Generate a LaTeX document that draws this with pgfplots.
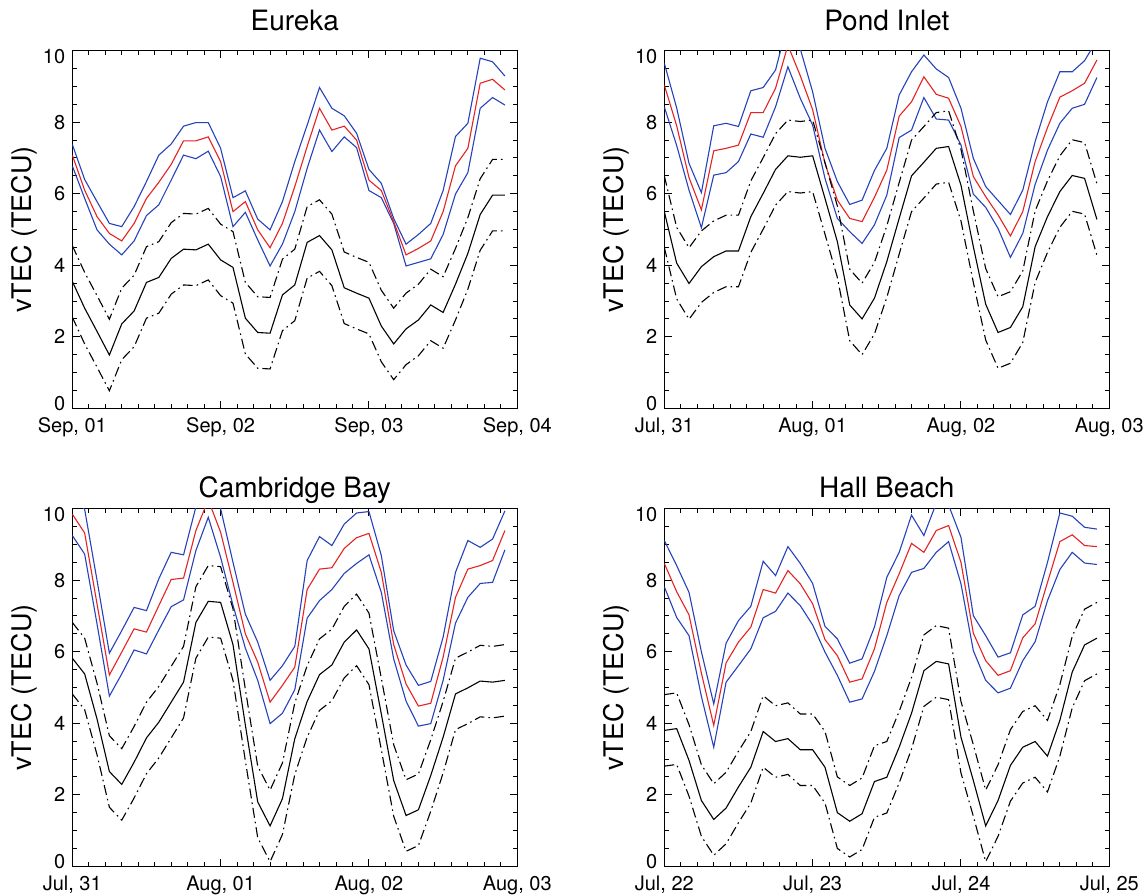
\documentclass[border=0pt]{standalone}
\usepackage{fontspec}
\setmainfont{TeX Gyre Heros}
\usepackage{pgfplots}
\usepackage{pgfplotstable}
\pgfplotsset{compat=1.18}
\definecolor{tecred}{RGB}{228,35,35}
\definecolor{tecblue}{RGB}{38,66,186}

% columns: hour, mean (red), mean +/- sigma (blue), quiet-time (black), black +/- 1
\pgfplotstableread{
h red bu bl k ku kl
0 7.08 7.38 6.78 3.55 4.55 2.55
2 6.10 6.40 5.87 2.80 3.80 1.80
4 5.36 5.78 4.99 2.15 3.15 1.15
6 4.89 5.17 4.59 1.49 2.49 0.49
8 4.68 5.08 4.29 2.36 3.36 1.36
10 5.17 5.64 4.68 2.72 3.72 1.72
12 5.87 6.34 5.39 3.52 4.52 2.52
14 6.32 7.08 5.69 3.66 4.66 2.66
16 6.82 7.39 6.38 4.19 5.19 3.19
18 7.48 7.89 7.08 4.45 5.45 3.45
20 7.48 7.99 6.98 4.43 5.43 3.43
22 7.59 7.99 7.19 4.59 5.59 3.59
24 6.90 7.27 6.48 4.15 5.15 3.15
26 5.50 5.89 5.08 3.94 4.94 2.94
28 5.78 6.08 5.48 2.52 3.52 1.52
30 4.99 5.29 4.71 2.12 3.12 1.12
32 4.49 4.99 3.98 2.10 3.10 1.10
34 5.17 5.78 4.59 3.17 4.17 2.17
36 6.20 6.90 5.50 3.45 4.45 2.45
38 7.32 7.92 6.71 4.64 5.64 3.64
40 8.39 8.97 7.78 4.83 5.83 3.83
42 7.78 8.39 7.18 4.43 5.43 3.43
44 7.89 8.18 7.59 3.37 4.37 2.37
46 7.50 7.69 7.29 3.22 4.22 2.22
48 6.38 6.68 6.09 3.08 4.08 2.08
50 6.09 6.29 5.89 2.30 3.30 1.30
52 5.22 5.31 5.17 1.80 2.80 0.80
54 4.29 4.59 3.98 2.22 3.22 1.22
56 4.47 4.86 4.08 2.47 3.47 1.47
58 4.68 5.17 4.18 2.89 3.89 1.89
60 5.50 6.09 4.86 2.68 3.68 1.68
62 6.78 7.60 5.99 3.47 4.47 2.47
64 7.27 7.97 6.59 4.33 5.33 3.33
66 9.09 9.79 8.39 5.42 6.42 4.42
68 9.20 9.69 8.69 5.96 6.96 4.96
70 8.90 9.29 8.48 5.96 6.96 4.96
}\eureka

\pgfplotstableread{
h red bu bl k ku kl
0 9.04 9.65 8.43 5.50 6.50 4.50
2 7.90 8.40 7.35 4.06 5.06 3.06
4 6.45 6.85 6.10 3.49 4.49 2.49
6 5.55 6.03 5.05 3.96 4.96 2.96
8 7.20 7.90 6.52 4.24 5.24 3.24
10 7.27 7.97 6.59 4.40 5.40 3.40
12 7.36 7.88 6.90 4.40 5.40 3.40
14 8.27 8.88 7.67 5.36 6.36 4.36
16 8.27 8.97 7.58 6.01 7.01 5.01
18 8.95 9.46 8.43 6.68 7.68 5.68
20 10.15 10.80 9.55 7.06 8.06 6.06
22 9.30 10.05 8.67 7.02 8.02 6.02
24 8.35 8.85 7.92 7.06 8.06 6.06
26 6.85 7.27 6.43 5.87 6.87 4.87
28 5.82 6.34 5.31 4.66 5.66 3.66
30 5.31 5.70 4.94 2.89 3.89 1.89
32 5.22 5.82 4.61 2.50 3.50 1.50
34 5.90 6.65 5.13 3.08 4.08 2.08
36 6.66 7.27 5.96 4.10 5.10 3.10
38 8.17 8.76 7.57 5.31 6.31 4.31
40 8.57 9.41 7.78 6.50 7.50 5.50
42 9.27 9.88 8.69 6.88 7.88 5.88
44 8.78 9.49 8.09 7.27 8.27 6.27
46 8.67 9.25 8.06 7.32 8.32 6.32
48 7.88 8.39 7.36 6.24 7.24 5.24
50 6.48 6.99 5.99 4.52 5.52 3.52
52 5.92 6.20 5.62 2.91 3.91 1.91
54 5.41 5.81 5.03 2.12 3.12 1.12
56 4.82 5.42 4.22 2.26 3.26 1.26
58 5.50 6.10 4.89 2.84 3.84 1.84
60 6.90 7.46 6.26 4.52 5.52 3.52
62 7.85 8.57 7.22 5.36 6.36 4.36
64 8.70 9.41 7.97 6.06 7.06 5.06
66 8.88 9.41 8.39 6.51 7.51 5.51
68 9.09 9.72 8.50 6.43 7.43 5.43
70 9.74 10.30 9.25 5.28 6.28 4.28
}\pond

\pgfplotstableread{
h red bu bl k ku kl
0 9.85 10.40 9.25 5.82 6.82 4.82
2 9.32 9.98 8.73 5.38 6.38 4.38
4 7.34 8.00 6.78 4.12 5.12 3.12
6 5.35 5.96 4.76 2.65 3.65 1.65
8 5.99 6.59 5.38 2.29 3.29 1.29
10 6.64 7.24 6.05 2.91 3.91 1.91
12 6.55 7.15 5.94 3.59 4.59 2.59
14 7.29 8.04 6.61 4.03 5.03 3.03
16 8.02 8.78 7.26 4.59 5.59 3.59
18 8.06 8.71 7.45 5.15 6.15 4.15
20 9.39 10.05 8.83 6.82 7.82 5.82
22 10.25 10.90 9.76 7.41 8.41 6.41
24 9.34 10.00 8.64 7.38 8.38 6.38
26 7.94 8.50 7.30 6.20 7.20 5.20
28 6.50 7.05 6.10 3.95 4.95 2.95
30 5.71 6.27 5.20 1.80 2.80 0.80
32 4.59 5.20 3.99 1.13 2.13 0.13
34 5.06 5.61 4.28 1.89 2.89 0.89
36 5.57 6.15 4.94 3.57 4.57 2.57
38 7.74 8.55 6.94 4.61 5.61 3.61
40 8.31 9.22 7.43 5.36 6.36 4.36
42 8.35 8.97 7.74 5.63 6.63 4.63
44 8.89 9.57 8.19 6.27 7.27 5.27
46 9.19 9.88 8.47 6.61 7.61 5.61
48 9.31 9.92 8.71 6.08 7.08 5.08
50 8.22 8.69 7.66 4.26 5.26 3.26
52 6.20 6.59 5.80 2.40 3.40 1.40
54 5.10 5.63 4.62 1.42 2.42 0.42
56 4.48 5.06 3.92 1.58 2.58 0.58
58 4.56 5.17 3.99 2.54 3.54 1.54
60 5.85 6.41 5.20 3.61 4.61 2.61
62 7.52 8.22 6.80 4.82 5.82 3.82
64 8.31 9.11 7.52 4.99 5.99 3.99
66 8.41 8.92 7.91 5.18 6.18 4.18
68 8.55 9.15 7.94 5.15 6.15 4.15
70 9.39 9.94 8.85 5.20 6.20 4.20
}\cambridge

\pgfplotstableread{
h red bu bl k ku kl
0 8.47 9.11 7.82 3.80 4.80 2.80
2 7.68 8.41 6.96 3.85 4.85 2.85
4 7.03 7.66 6.45 2.96 3.96 1.96
6 5.40 6.00 4.75 1.84 2.84 0.84
8 3.94 4.54 3.33 1.31 2.31 0.31
10 5.69 6.24 5.15 1.63 2.63 0.63
12 6.27 6.87 5.61 2.22 3.22 1.22
14 6.69 7.27 6.08 2.77 3.77 1.77
16 7.74 8.53 6.95 3.77 4.77 2.77
18 7.64 8.13 7.13 3.49 4.49 2.49
20 8.27 8.94 7.64 3.57 4.57 2.57
22 7.90 8.47 7.29 3.26 4.26 2.26
24 7.34 7.91 6.75 3.26 4.26 2.26
26 6.34 6.71 5.99 2.77 3.77 1.77
28 5.89 6.36 5.34 1.50 2.50 0.50
30 5.15 5.68 4.59 1.26 2.26 0.26
32 5.24 5.80 4.68 1.47 2.47 0.47
34 6.08 6.69 5.45 2.37 3.37 1.37
36 7.38 8.08 6.45 2.49 3.49 1.49
38 8.18 8.78 7.57 3.33 4.33 2.33
40 9.03 9.82 8.22 4.28 5.28 3.28
42 8.78 9.25 8.33 5.47 6.47 4.47
44 9.39 10.15 8.78 5.73 6.73 4.73
46 9.53 10.10 9.08 5.66 6.66 4.66
48 8.50 9.20 7.90 3.61 4.61 2.61
50 6.52 7.01 6.03 2.40 3.40 1.40
52 5.75 6.45 5.20 1.13 2.13 0.13
54 5.34 5.85 4.85 1.84 2.84 0.84
56 5.47 5.97 4.98 2.82 3.82 1.82
58 6.39 7.03 5.75 3.33 4.33 2.33
60 6.78 7.27 6.28 3.49 4.49 2.49
62 7.94 8.50 7.43 3.08 4.08 2.08
64 9.08 9.88 8.30 4.08 5.08 3.08
66 9.27 9.79 8.78 5.43 6.43 4.43
68 8.97 9.48 8.48 6.19 7.19 5.19
70 8.94 9.43 8.44 6.38 7.38 5.38
}\hall

\pgfplotsset{
  tecax/.style={
    scale only axis, width=222.5pt, height=178.8pt,
    xmin=0, xmax=72, ymin=0, ymax=10,
    xtick={0,24,48,72}, minor x tick num=8,
    ytick={0,2,4,6,8,10}, minor y tick num=3,
    % end labels pulled inside the frame, as in the original
    yticklabels={\smash{\raisebox{-1pt}{0}},2,4,6,8,\smash{\raisebox{-6.4pt}{10}}},
    tick align=inside,
    major tick length=3.8pt, minor tick length=2.1pt,
    tick style={black, line width=0.5pt},
    axis line style={line width=0.5pt},
    ticklabel style={font=\fontsize{10}{12}\selectfont},
    xticklabel style={yshift=-1.2pt},
    /pgf/number format/assume math mode=true,
    ylabel={vTEC (TECU)},
    ylabel style={font=\fontsize{13.5}{15}\selectfont,
      at={(axis description cs:-0.108,0.5)}, anchor=center},
    title style={font=\fontsize{14}{16}\selectfont,
      at={(0.5,1)}, anchor=base},
  },
  mean/.style={tecred, line width=0.55pt},
  sig/.style={tecblue, line width=0.55pt},
  quiet/.style={black, line width=0.55pt},
  qband/.style={black, line width=0.55pt, dash pattern=on 5pt off 2pt on 0.8pt off 2pt},
}

\newcommand{\tecplots}[1]{%
  \addplot[sig] table[x=h, y=bu] {#1};
  \addplot[sig] table[x=h, y=bl] {#1};
  \addplot[mean] table[x=h, y=red] {#1};
  \addplot[qband] table[x=h, y=ku] {#1};
  \addplot[qband] table[x=h, y=kl] {#1};
  \addplot[quiet] table[x=h, y=k] {#1};
}

\begin{document}
\begin{tikzpicture}
\useasboundingbox (0,0) rectangle (573pt,447.5pt);

\begin{axis}[tecax, at={(36.15pt,243.35pt)}, anchor=south west,
  title={Eureka}, title style={yshift=4.3pt},
  xticklabels={{Sep, 01},{Sep, 02},{Sep, 03},{Sep, 04}}]
\tecplots{\eureka}
\end{axis}

\begin{axis}[tecax, at={(332.15pt,243.35pt)}, anchor=south west,
  title={Pond Inlet}, title style={yshift=4.3pt},
  xticklabels={{Jul, 31},{Aug, 01},{Aug, 02},{Aug, 03}}]
\tecplots{\pond}
\end{axis}

\begin{axis}[tecax, at={(36.15pt,14.35pt)}, anchor=south west,
  title={Cambridge Bay}, title style={yshift=-0.3pt},
  xticklabels={{Jul, 31},{Aug, 01},{Aug, 02},{Aug, 03}}]
\tecplots{\cambridge}
\end{axis}

\begin{axis}[tecax, at={(332.15pt,14.35pt)}, anchor=south west,
  title={Hall Beach}, title style={yshift=-0.3pt},
  xticklabels={{Jul, 22},{Jul, 23},{Jul, 24},{Jul, 25}}]
\tecplots{\hall}
\end{axis}
\end{tikzpicture}
\end{document}
